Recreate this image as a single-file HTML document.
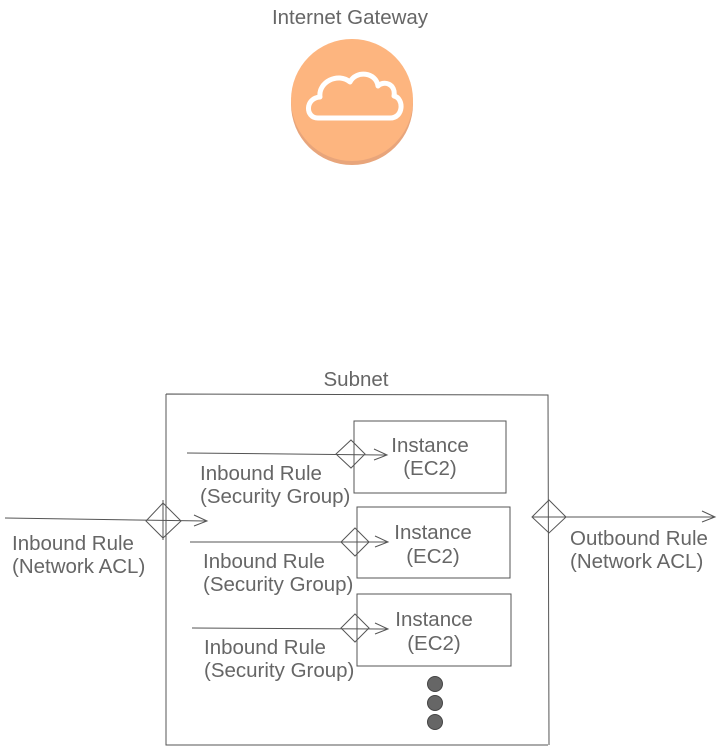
<!DOCTYPE html>
<html><head><meta charset="utf-8"><style>
html,body{margin:0;padding:0;background:#fff;}
svg{display:block;}
text{font-family:"Liberation Sans",sans-serif;fill:#666;font-size:20.5px;}
</style></head><body>
<svg width="720" height="750" viewBox="0 0 720 750" xmlns="http://www.w3.org/2000/svg">
<text x="350" y="24" text-anchor="middle">Internet Gateway</text>
<circle cx="352" cy="104" r="61" fill="#e8a57b"/>
<circle cx="352" cy="100" r="61" fill="#fdb57f"/>
<path d="M318 118 C305 118 305 98 320 97 C318 82 338 72 350 82 C356 70 376 72 378 86 C384 80 396 84 394 96 C404 98 404 118 390 118 Z" fill="none" stroke="#fff" stroke-width="5" stroke-linejoin="round"/>
<text x="356" y="386" text-anchor="middle">Subnet</text>
<g fill="none" stroke="#555" stroke-width="1">
<path d="M166 394 L548 395 L549 745 M166 394 L166 745 L548 745"/>
<rect x="354" y="421" width="152" height="72"/>
<rect x="357" y="507" width="153" height="71"/>
<rect x="357" y="594" width="154" height="72"/>
<path d="M5 518 L206 521 M194 515 L207 521 L194 526"/>
<path d="M163 503 L181 521 L163 538 L146 521 Z M163 500 L163 540"/>
<path d="M533 517 L715 517 M702 511 L715 517 L702 522"/>
<path d="M549 500 L566 517 L549 533 L532 517 Z"/>
<path d="M187 453 L387 455 M374 449 L387 455 L374 460"/>
<path d="M351 440 L365 454 L351 468 L336 454 Z"/>
<path d="M190 542 L388 542 M375 536 L388 542 L375 547"/>
<path d="M355 528 L369 542 L355 556 L341 542 Z"/>
<path d="M192 628 L388 629 M375 623 L388 629 L375 634"/>
<path d="M355 614 L369 628 L355 642 L341 628 Z"/>
</g>
<g fill="#666" stroke="#444" stroke-width="1">
<circle cx="435" cy="684" r="7.5"/>
<circle cx="435" cy="703" r="7.5"/>
<circle cx="435" cy="722" r="7.5"/>
</g>
<text x="430" y="452" text-anchor="middle">Instance</text>
<text x="430" y="475" text-anchor="middle">(EC2)</text>
<text x="433" y="539" text-anchor="middle">Instance</text>
<text x="433" y="563" text-anchor="middle">(EC2)</text>
<text x="434" y="626" text-anchor="middle">Instance</text>
<text x="434" y="650" text-anchor="middle">(EC2)</text>
<text x="200" y="480">Inbound Rule</text>
<text x="200" y="503">(Security Group)</text>
<text x="203" y="568">Inbound Rule</text>
<text x="203" y="591">(Security Group)</text>
<text x="204" y="654">Inbound Rule</text>
<text x="204" y="677">(Security Group)</text>
<text x="12" y="550">Inbound Rule</text>
<text x="12" y="573">(Network ACL)</text>
<text x="570" y="545">Outbound Rule</text>
<text x="570" y="568">(Network ACL)</text>
</svg>
</body></html>
